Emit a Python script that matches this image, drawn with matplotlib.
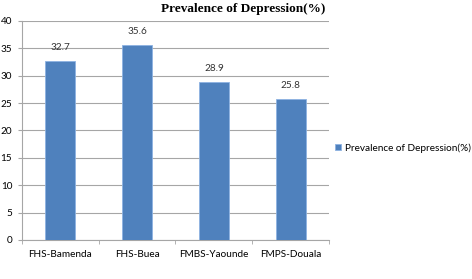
import matplotlib.pyplot as plt
import numpy as np

schools = ["FHS-Bamenda", "FHS-Buea", "FMBS-Yaounde", "FMPS-Douala"]
prevalence = [32.7, 35.6, 28.9, 25.8]
yticks = [0, 5, 10, 15, 20, 25, 30, 35, 40]

font = "Lato"

fig = plt.figure(figsize=(4.72, 2.79), dpi=100)
ax = fig.add_axes([0.0466, 0.1398, 0.6504, 0.785])

x = np.arange(len(schools))
bars = ax.bar(x, prevalence, width=0.39, color="#4F81BD", edgecolor="#8DB3E2",
              linewidth=0.6, label="Prevalence of Depression(%)", zorder=3)

for xi, v in zip(x, prevalence):
    ax.text(xi, v + 1.6, f"{v}", ha="center", va="bottom", fontsize=7.2,
            family=font, color="#333333")

ax.set_xlim(-0.5, len(schools) - 0.5)
ax.set_ylim(0, 40)
ax.set_yticks(yticks)
ax.set_xticks(x)
ax.set_xticklabels(schools, family=font, fontsize=7.2)
for lab in ax.get_yticklabels():
    lab.set_family(font)
    lab.set_fontsize(7.2)
ax.yaxis.grid(True, color="#A6A6A6", linewidth=0.8, zorder=0)

# category separators on the bottom axis
ax.set_xticks(np.arange(-0.5, len(schools)), minor=True)
ax.tick_params(axis="x", which="major", length=0, pad=7)
ax.tick_params(axis="x", which="minor", length=3, color="#A6A6A6")
ax.tick_params(axis="y", length=3, color="#A6A6A6", pad=4)

for s in ["top", "right"]:
    ax.spines[s].set_visible(False)
ax.spines["left"].set_color("#A6A6A6")
ax.spines["bottom"].set_color("#A6A6A6")

fig.text(0.515, 0.988, "Prevalence of Depression(%)", ha="center", va="top",
         family="Liberation Serif", fontweight="bold", fontsize=9.5)

fig.legend(handles=[bars], loc="center left", bbox_to_anchor=(0.69, 0.47),
           frameon=False, prop={"family": font, "size": 7.2},
           handlelength=0.6, handleheight=0.6, handletextpad=0.4)

fig.savefig("out.png", dpi=100)
